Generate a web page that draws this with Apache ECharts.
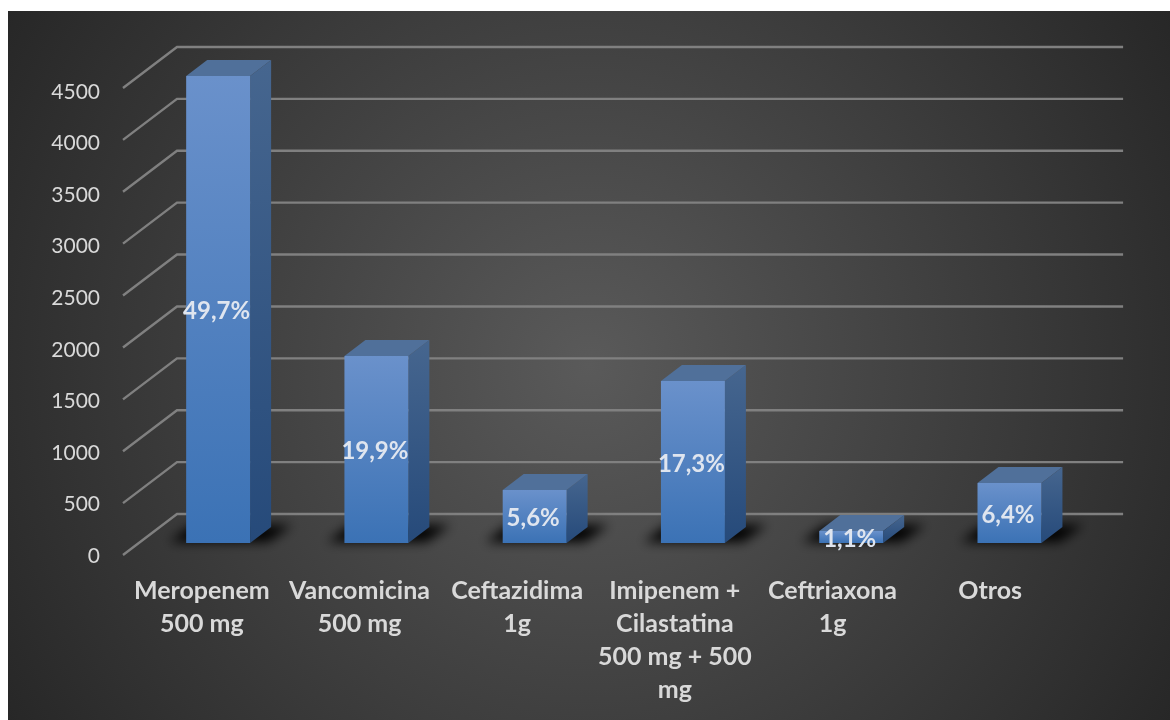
<!DOCTYPE html>
<html><head><meta charset="utf-8">
<style>html,body{margin:0;padding:0;background:#fff}#c{width:1170px;height:720px}</style>
<script src="https://cdn.jsdelivr.net/npm/echarts@6/dist/echarts.min.js"></script>
</head><body><div id="c"></div>
<script>
const categories = ["Meropenem\n500 mg","Vancomicina\n500 mg","Ceftazidima\n1g","Imipenem +\nCilastatina\n500 mg + 500\nmg","Ceftriaxona\n1g","Otros"];
const values = [4500,1802,511,1561,115,578];
const percents = ["49,7%","19,9%","5,6%","17,3%","1,1%","6,4%"];
const ticks = [0,500,1000,1500,2000,2500,3000,3500,4000,4500];

const DX = 21, DY = -16;
const FONT = 'Lato';
const lg = (a,b)=>new echarts.graphic.LinearGradient(0,0,0,1,[{offset:0,color:a},{offset:1,color:b}]);

function renderGrid(params, api){
  const p = api.coord([0, api.value(1)]);
  const cs = params.coordSys;
  return {type:'polyline', silent:true, shape:{points:[
      [cs.x-16, p[1]+12],[cs.x+38, p[1]-29],[cs.x+cs.width+34.5, p[1]-29]]},
    style:{stroke:'#808080', lineWidth:2.4, fill:null}};
}
function renderShadow(params, api){
  const i = api.value(0), base = api.coord([i,0]), w = api.size([1,0])[0]*0.404;
  const x0 = base[0]-w/2, x1 = x0+w, y = base[1];
  const off = 3000;
  return {type:'polygon', silent:true, shape:{points:[
      [x0-off-17,y-1],[x0-off+6,y-18],[x1-off+42,y-18],[x1-off+18,y-1]]},
    style:{fill:'#000', shadowBlur:12, shadowColor:'rgba(0,0,0,1)', shadowOffsetX:off}};
}
function renderBar(params, api){
  const i = api.value(0), v = api.value(1);
  const base = api.coord([i,0]), top = api.coord([i,v]);
  const w = api.size([1,0])[0]*0.404;
  const x0 = base[0]-w/2, x1 = base[0]+w/2, y0 = top[1], y1 = base[1];
  return {type:'group', children:[
    {type:'polygon', shape:{points:[[x1,y0],[x1+DX,y0+DY],[x1+DX,y1+DY],[x1,y1]]}, style:{fill:lg('#46668f','#264a7a')}},
    {type:'polygon', shape:{points:[[x0,y0],[x0+DX,y0+DY],[x1+DX,y0+DY],[x1,y0]]}, style:{fill:'#50709a'}},
    {type:'rect', shape:{x:x0,y:y0,width:w,height:y1-y0}, style:{fill:lg('#6a91cb','#3b72b5')}},
    {type:'text', z2:10, style:{x:base[0]-1.5,y:(y0+y1)/2+2,text:percents[i],align:'center',verticalAlign:'middle',
      fill:'#dfe5ef',font:'bold 24px '+FONT}}
  ]};
}

const chart = echarts.init(document.getElementById('c'), null, {renderer:'canvas'});
chart.setOption({
  animation:false,
  backgroundColor:'#ffffff',
  graphic:[{type:'rect', z:-100, silent:true, shape:{x:8,y:11,width:1162,height:709},
    style:{fill:new echarts.graphic.RadialGradient(0.5,0.5,0.98,[{offset:0,color:'#5a5a5a'},{offset:1,color:'#262626'}])}}],
  grid:[
    {left:139, top:76, width:949.6, height:467},
    {left:123, top:92, width:946, height:464}
  ],
  xAxis:[
    {type:'category', gridIndex:0, data:categories, show:false},
    {type:'category', gridIndex:1, data:categories,
      axisLine:{show:false}, axisTick:{show:false},
      axisLabel:{interval:0, margin:18, color:'#d9d9d9', fontFamily:FONT, fontWeight:'bold', fontSize:25, lineHeight:33, verticalAlign:'top'}}
  ],
  yAxis:[
    {type:'value', gridIndex:0, min:0, max:4500, interval:500, show:false, splitLine:{show:false}},
    {type:'value', gridIndex:1, min:0, max:4500, interval:500,
      axisLine:{show:false}, axisTick:{show:false}, splitLine:{show:false},
      axisLabel:{margin:23, color:'#d9d9d9', fontFamily:FONT, fontSize:21, formatter:v=>String(v)}}
  ],
  series:[
    {type:'custom', name:'grid', xAxisIndex:0, yAxisIndex:0, z:1, clip:false, silent:true,
      data:ticks.map(t=>[0,t]), encode:{x:0,y:1}, renderItem:renderGrid},
    {type:'custom', name:'shadow', xAxisIndex:0, yAxisIndex:0, z:2, clip:false, silent:true,
      data:values.map((v,i)=>[i,v]), encode:{x:0,y:1}, renderItem:renderShadow},
    {type:'custom', name:'bars', xAxisIndex:0, yAxisIndex:0, z:3, clip:false, silent:true,
      data:values.map((v,i)=>[i,v]), encode:{x:0,y:1}, renderItem:renderBar}
  ]
});
</script></body></html>
